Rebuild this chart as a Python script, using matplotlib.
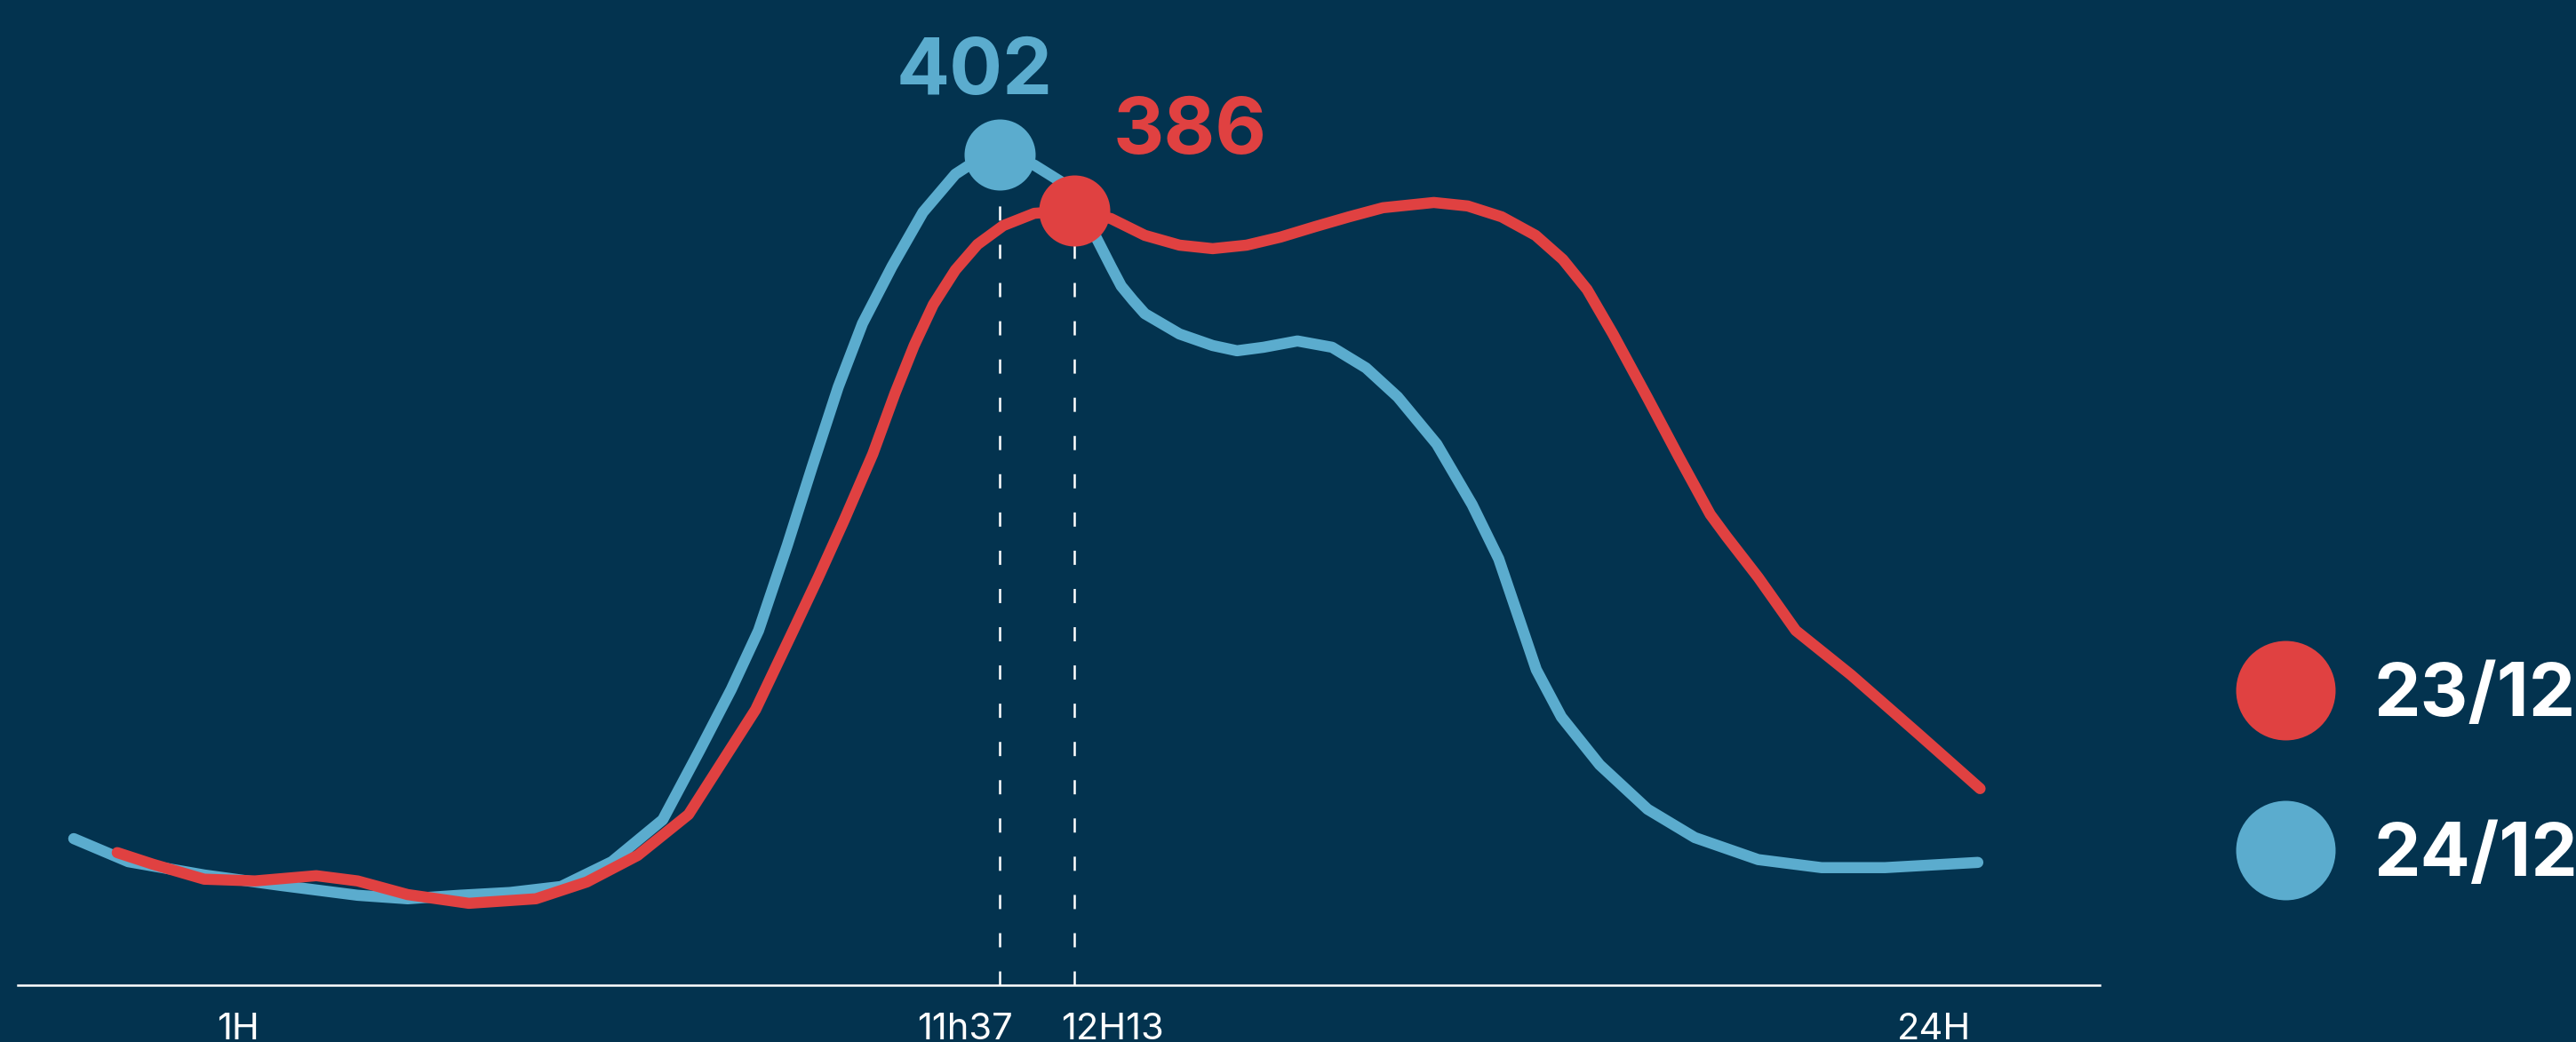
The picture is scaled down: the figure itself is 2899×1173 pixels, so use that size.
import matplotlib
matplotlib.use("Agg")
import matplotlib.pyplot as plt
from matplotlib.lines import Line2D
from matplotlib.transforms import ScaledTranslation

plt.rcParams['font.family'] = ['Inter', 'DejaVu Sans']
plt.rcParams['lines.scale_dashes'] = False

# ---------------- data ----------------
# x = hour of day (chart position), y = value
hours_2412 = [-1.23, -0.49, 0.54, 1.58, 2.62, 3.30, 4.00, 4.69, 5.38, 6.07, 6.76, 7.26,
              7.69, 8.06, 8.45, 8.79, 9.14, 9.47, 9.87, 10.29, 10.73, 11.03, 11.33,
              11.80, 12.15, 12.62, 12.84, 12.98, 13.14, 13.30, 13.77, 14.22, 14.55,
              14.91, 15.37, 15.84, 16.30, 16.73, 17.26, 17.74, 18.10, 18.39, 18.61,
              18.95, 19.47, 20.12, 20.76, 21.62, 22.48, 23.34, 24.60]
values_2412 = [206.4, 199.8, 196.0, 193.0, 190.2, 189.2, 190.2, 191.0, 192.7, 199.8, 211.8,
               231.6, 249.1, 265.9, 290.3, 312.9, 335.5, 353.7, 370.0, 385.5, 396.4, 400.5,
               402.0, 399.0, 394.4, 379.1, 370.0, 364.4, 360.3, 356.5, 350.7, 347.4, 345.9,
               346.9, 348.7, 346.9, 341.0, 332.7, 319.2, 301.9, 286.4, 268.4, 254.7,
               241.2, 227.5, 214.8, 206.7, 200.4, 198.1, 198.1, 199.6]

hours_2312 = [-0.64, -0.16, 0.54, 1.23, 2.06, 2.62, 3.30, 4.13, 5.04, 5.73, 6.42, 7.11,
              7.58, 8.02, 8.53, 8.87, 9.22, 9.61, 9.91, 10.17, 10.43, 10.73, 11.03,
              11.38, 11.80, 12.34, 12.84, 13.30, 13.77, 14.22, 14.68, 15.14, 15.61,
              16.07, 16.53, 17.22, 17.68, 18.14, 18.60, 18.97, 19.30, 19.65, 20.12,
              20.54, 20.97, 21.19, 21.62, 22.13, 22.88, 23.79, 24.63]
values_2312 = [202.4, 199.1, 194.8, 194.3, 195.8, 194.3, 190.4, 187.9, 189.2, 194.0, 201.6,
               213.3, 228.8, 243.3, 265.9, 281.1, 297.4, 316.4, 333.7, 347.4, 359.1, 369.0,
               376.3, 381.7, 385.2, 386.0, 383.7, 378.9, 376.1, 375.1, 376.1, 378.4, 381.4,
               384.2, 386.8, 388.3, 387.3, 384.2, 378.9, 372.0, 363.4, 350.7, 332.4,
               315.7, 299.1, 292.8, 281.1, 265.9, 253.2, 236.4, 220.7]

series_labels = ['23/12', '24/12']
peak_hours = [12.34, 11.33]          # 23/12, 24/12
peak_values = [386, 402]
tick_hours = [1, 11.33, 12.34, 24]
tick_labels = ['1H', '11h37', '12H13', '24H']

# ---------------- style ----------------
BG = '#03334f'
RED = '#e04141'
BLUE = '#5bacce'
WHITE = '#ffffff'

W, H = 2899, 1173
fig = plt.figure(figsize=(W / 100, H / 100), dpi=100)
fig.patch.set_facecolor(BG)

ax = fig.add_axes([20 / W, (H - 1109) / H, (2363 - 20) / W, 1109 / H])
ax.set_facecolor(BG)
ax.set_xlim(-1.989, 26.253)
ax.set_ylim(164.5, 446.2)

for s in ['top', 'right', 'left']:
    ax.spines[s].set_visible(False)
ax.spines['bottom'].set_color(WHITE)
ax.spines['bottom'].set_linewidth(1.8)
ax.set_yticks([])

# dashed drop lines
for px, pv in zip(peak_hours, peak_values):
    ax.plot([px, px], [164.5, pv], color=WHITE, lw=1.8,
            dashes=(11.5, 19.5), zorder=1, solid_capstyle='butt')

ax.plot(hours_2412, values_2412, color=BLUE, lw=9, zorder=2,
        solid_capstyle='round', solid_joinstyle='round')
ax.plot(hours_2312, values_2312, color=RED, lw=9, zorder=3,
        solid_capstyle='round', solid_joinstyle='round')

ax.plot([peak_hours[1]], [peak_values[1]], 'o', ms=57.6, color=BLUE, mec='none', zorder=4)
ax.plot([peak_hours[0]], [peak_values[0]], 'o', ms=57.6, color=RED, mec='none', zorder=5)

ax.annotate(str(peak_values[1]), (peak_hours[1], peak_values[1]),
            xytext=(-20, 49), textcoords='offset points', ha='center', va='baseline',
            fontsize=64, fontweight='bold', color=BLUE)
ax.annotate(str(peak_values[0]), (peak_hours[0], peak_values[0]),
            xytext=(94, 46), textcoords='offset points', ha='center', va='baseline',
            fontsize=64, fontweight='bold', color=RED)

ax.set_xticks(tick_hours)
ax.set_xticklabels(tick_labels)
ax.tick_params(axis='x', length=0, pad=22, labelsize=30, labelcolor=WHITE)
offsets_px = [0, -39, 43, 0]
for lab, off in zip(ax.get_xticklabels(), offsets_px):
    lab.set_transform(lab.get_transform() + ScaledTranslation(off / 100, 0, fig.dpi_scale_trans))

# legend
leg_items = [(series_labels[0], RED, 777, 806), (series_labels[1], BLUE, 957, 986)]
for text, col, cy, base in leg_items:
    fig.add_artist(Line2D([2572 / W], [1 - cy / H], transform=fig.transFigure,
                          marker='o', ms=80.6, color=col, mec='none', ls=''))
    fig.text(2672 / W, 1 - base / H, text, ha='left', va='baseline',
             fontsize=60, fontweight='bold', color=WHITE)

fig.savefig('out.png', dpi=100, facecolor=BG)
